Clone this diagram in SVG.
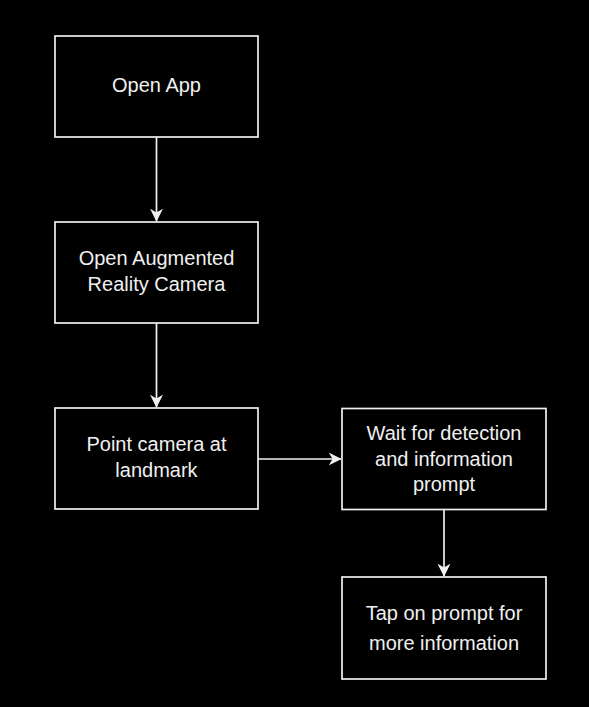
<svg xmlns="http://www.w3.org/2000/svg" width="589" height="707" viewBox="0 0 589 707">
<style>
.box{fill:#000;stroke:#f0f0f0;stroke-width:1.7}
.lbl{font-family:"Liberation Sans",Arial,sans-serif;font-size:20px;fill:#f0f0f0;text-anchor:middle}
.edge{stroke:#f0f0f0;stroke-width:1.7;fill:none}
</style>
<defs>
<marker id="arr" viewBox="0 0 10 10" refX="9.5" refY="5" markerWidth="13" markerHeight="13" markerUnits="userSpaceOnUse" orient="auto">
<path d="M0,0 L10,5 L0,10 L3,5 Z" fill="#f0f0f0"/>
</marker>
</defs>
<rect width="589" height="707" fill="#000"/>
<g id="edges">
<path class="edge" d="M156.5,137 V221" marker-end="url(#arr)"/>
<path class="edge" d="M156.5,323 V407" marker-end="url(#arr)"/>
<path class="edge" d="M258,459 H341" marker-end="url(#arr)"/>
<path class="edge" d="M444,509 V576" marker-end="url(#arr)"/>
</g>
<g id="n1"><rect class="box" x="55" y="36" width="203" height="101"/><text class="lbl" x="156.5" y="92">Open App</text></g>
<g id="n2"><rect class="box" x="55" y="222" width="203" height="101"/><text class="lbl" x="156.5" y="265">Open Augmented</text><text class="lbl" x="156.5" y="291">Reality Camera</text></g>
<g id="n3"><rect class="box" x="55" y="408" width="203" height="101"/><text class="lbl" x="156.5" y="451">Point camera at</text><text class="lbl" x="156.5" y="477">landmark</text></g>
<g id="n4"><rect class="box" x="342" y="408.5" width="204" height="101"/><text class="lbl" x="444" y="440">Wait for detection</text><text class="lbl" x="444" y="466">and information</text><text class="lbl" x="444" y="491">prompt</text></g>
<g id="n5"><rect class="box" x="342" y="577" width="204" height="102"/><text class="lbl" x="444" y="620">Tap on prompt for</text><text class="lbl" x="444" y="650">more information</text></g>
</svg>
